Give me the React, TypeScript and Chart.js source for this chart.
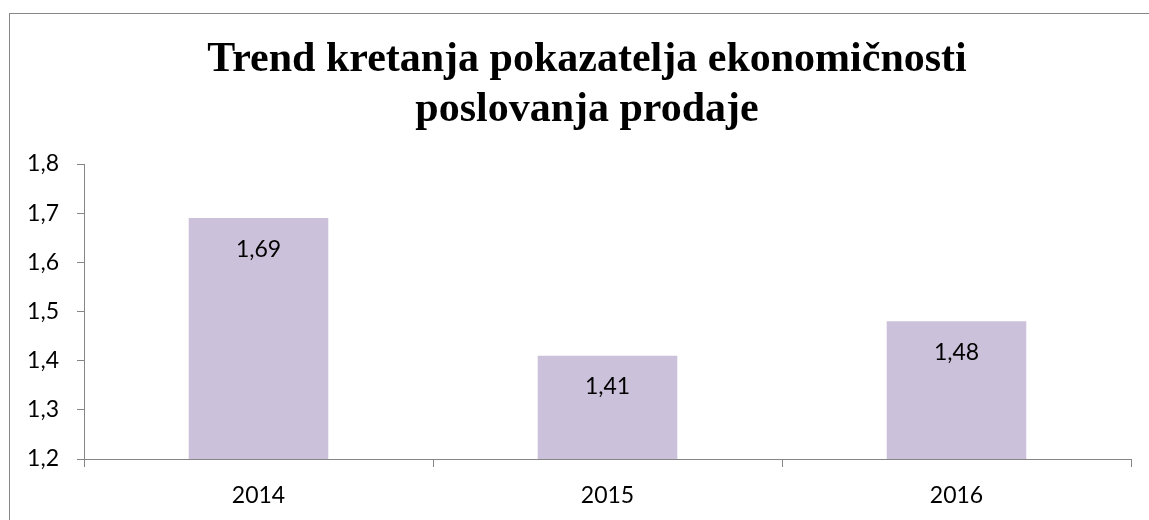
import React, { useEffect, useRef } from "react";
import { Chart, registerables } from "chart.js";

Chart.register(...registerables);

const categories = ["2014", "2015", "2016"];
const values = [1.69, 1.41, 1.48];
const titleLines = ["Trend kretanja pokazatelja ekonomičnosti", "poslovanja prodaje"];
const yMin = 1.2;
const yMax = 1.8;
const yStep = 0.1;

const fmt = (v: number, d: number) => v.toFixed(d).replace(".", ",");

const W = 1149;
const H = 520;
const AXIS = "#868686";
const FONT = "Lato, 'Open Sans', sans-serif";
const TITLE_FONT = "bold 42px 'Liberation Serif', 'Times New Roman', serif";

export default function App() {
  const ref = useRef<HTMLCanvasElement>(null);
  useEffect(() => {
    if (!ref.current) return;
    const frame = {
      id: "frame",
      beforeDraw(chart: any) {
        const ctx = chart.ctx;
        ctx.save();
        ctx.fillStyle = "#fff";
        ctx.fillRect(0, 0, chart.width, chart.height);
        ctx.strokeStyle = AXIS;
        ctx.lineWidth = 1;
        ctx.strokeRect(9.5, 13.5, chart.width + 40, chart.height + 40);
        ctx.restore();
      },
      afterDraw(chart: any) {
        const ctx = chart.ctx;
        ctx.save();
        ctx.fillStyle = "#000";
        ctx.font = TITLE_FONT;
        ctx.textAlign = "center";
        ctx.textBaseline = "middle";
        titleLines.forEach((line, i) => {
          ctx.fillText(line, 587, 60 + i * 50);
        });
        ctx.restore();
      },
    };
    const labels = {
      id: "labels",
      afterDatasetsDraw(chart: any) {
        const ctx = chart.ctx;
        const meta = chart.getDatasetMeta(0);
        ctx.save();
        ctx.fillStyle = "#000";
        ctx.font = `23px ${FONT}`;
        ctx.textAlign = "center";
        ctx.textBaseline = "middle";
        meta.data.forEach((bar: any, i: number) => {
          ctx.fillText(fmt(values[i], 2), bar.x, bar.y + 31);
        });
        ctx.restore();
      },
    };
    const chart = new Chart(ref.current, {
      type: "bar",
      data: {
        labels: categories,
        datasets: [
          {
            data: values,
            backgroundColor: "#CCC1DA",
            borderWidth: 0,
            categoryPercentage: 1,
            barPercentage: 0.4,
          },
        ],
      },
      options: {
        responsive: false,
        animation: false,
        layout: { padding: { left: 0, right: 18, top: 164, bottom: 0 } },
        plugins: {
          legend: { display: false },
          tooltip: { enabled: false },
          title: { display: false },
        },
        scales: {
          x: {
            grid: { display: true, drawOnChartArea: false, drawTicks: true, tickLength: 8, color: AXIS, offset: true },
            border: { display: true, color: AXIS },
            ticks: { color: "#000", font: { family: FONT, size: 23 }, padding: 15 },
            afterFit: (s: any) => {
              s.height = 61;
            },
          },
          y: {
            min: yMin,
            max: yMax,
            grid: { display: true, drawOnChartArea: false, drawTicks: true, tickLength: 7, color: AXIS },
            border: { display: true, color: AXIS },
            ticks: {
              stepSize: yStep,
              color: "#000",
              font: { family: FONT, size: 23 },
              padding: 18,
              callback: (v: any) => fmt(Number(v), 1),
            },
            afterFit: (s: any) => {
              s.width = 84;
            },
          },
        },
      },
      plugins: [frame, labels],
    } as any);
    return () => chart.destroy();
  }, []);
  return (
    <div style={{ position: "fixed", left: 0, top: 0, width: W, height: H, background: "#fff" }}>
      <canvas ref={ref} width={W} height={H} style={{ display: "block" }} />
    </div>
  );
}
